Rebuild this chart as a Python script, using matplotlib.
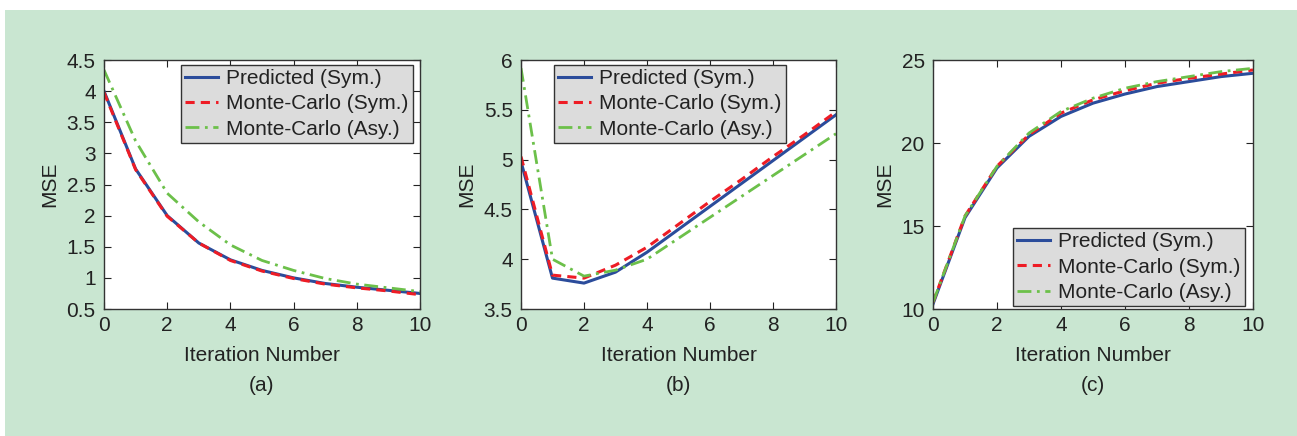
import matplotlib
matplotlib.use("Agg")
import matplotlib.pyplot as plt
from matplotlib.patches import Rectangle

plt.rcParams['font.family'] = ['Liberation Sans', 'DejaVu Sans']

iters = list(range(11))

a_pred = [4.0, 2.75, 2.0, 1.56, 1.29, 1.12, 1.0, 0.91, 0.85, 0.80, 0.75]
a_mc_sym = [3.98, 2.74, 1.99, 1.56, 1.28, 1.11, 0.99, 0.90, 0.84, 0.79, 0.73]
a_mc_asy = [4.34, 3.2, 2.36, 1.9, 1.53, 1.28, 1.12, 0.99, 0.90, 0.84, 0.78]

b_pred = [4.98, 3.81, 3.76, 3.87, 4.07, 4.30, 4.53, 4.76, 4.99, 5.22, 5.45]
b_mc_sym = [5.03, 3.84, 3.81, 3.94, 4.12, 4.35, 4.58, 4.80, 5.03, 5.25, 5.48]
b_mc_asy = [5.92, 4.0, 3.83, 3.89, 4.0, 4.21, 4.42, 4.63, 4.84, 5.05, 5.26]

c_pred = [10.3, 15.5, 18.5, 20.4, 21.6, 22.4, 22.95, 23.4, 23.7, 24.0, 24.2]
c_mc_sym = [10.4, 15.6, 18.6, 20.5, 21.8, 22.6, 23.15, 23.6, 23.9, 24.15, 24.4]
c_mc_asy = [10.4, 15.6, 18.6, 20.6, 21.9, 22.7, 23.3, 23.7, 24.0, 24.3, 24.5]

labels = ['Predicted (Sym.)', 'Monte-Carlo (Sym.)', 'Monte-Carlo (Asy.)']
captions = ['(a)', '(b)', '(c)']
ylims = [(0.5, 4.5), (3.5, 6), (10, 25)]
yticks = [[0.5, 1, 1.5, 2, 2.5, 3, 3.5, 4, 4.5],
          [3.5, 4, 4.5, 5, 5.5, 6],
          [10, 15, 20, 25]]
ytick_labels = [['0.5', '1', '1.5', '2', '2.5', '3', '3.5', '4', '4.5'],
                ['3.5', '4', '4.5', '5', '5.5', '6'],
                ['10', '15', '20', '25']]
xticks = [0, 2, 4, 6, 8, 10]

W, H = 1297, 436
fig = plt.figure(figsize=(W / 100, H / 100), dpi=100)
fig.patch.set_facecolor('white')
fig.patches.append(Rectangle((5 / W, 0), 1 - 5 / W, 1 - 10 / H,
                             transform=fig.transFigure, facecolor='#c9e6d1',
                             edgecolor='none', zorder=-10))

blue = '#2b4c9b'
red = '#ee1c25'
green = '#6cc04a'
txt = '#222222'
fs = 15

rects = [(104, 316), (521, 315), (933, 320)]
bottom = (H - 309) / H
height = 249 / H
data = [(a_pred, a_mc_sym, a_mc_asy), (b_pred, b_mc_sym, b_mc_asy), (c_pred, c_mc_sym, c_mc_asy)]
leg_locs = ['upper right', 'upper right', 'lower right']
leg_anchors = [((413 - 104) / 316, (309 - 65) / 249),
               ((786 - 521) / 315, (309 - 65) / 249),
               ((1245 - 933) / 320, 0.012)]

for i in range(3):
    l, w = rects[i]
    ax = fig.add_axes([l / W, bottom, w / W, height])
    ax.set_facecolor('white')
    p, ms, ma = data[i]
    ax.plot(iters, p, color=blue, lw=2.2, ls='-', label=labels[0])
    ax.plot(iters, ms, color=red, lw=2.2, ls=(0, (3, 2)), label=labels[1])
    ax.plot(iters, ma, color=green, lw=2.0, ls=(0, (5, 2, 1, 2)), label=labels[2])
    ax.set_xlim(0, 10)
    ax.set_ylim(*ylims[i])
    ax.set_xticks(xticks)
    ax.set_xticklabels([str(t) for t in xticks])
    ax.set_yticks(yticks[i])
    ax.set_yticklabels(ytick_labels[i])
    ax.tick_params(direction='in', top=True, right=True, length=5, width=0.8,
                   labelsize=fs, colors=txt)
    ax.tick_params(axis='x', pad=5)
    ax.tick_params(axis='y', pad=6)
    for s in ax.spines.values():
        s.set_color('#333333')
        s.set_linewidth(1.0)
    ax.set_xlabel('Iteration Number', fontsize=fs, color=txt, labelpad=8)
    ax.set_ylabel('MSE', fontsize=fs, color=txt, labelpad=5)
    ax.text(0.5, (385 - 309) / -249.0, captions[i], transform=ax.transAxes,
            ha='center', va='center', fontsize=fs, color=txt)
    leg = ax.legend(loc=leg_locs[i], bbox_to_anchor=leg_anchors[i], fontsize=fs,
                    frameon=True, fancybox=False,
                    edgecolor='#333333', facecolor='#dcdcdc', framealpha=1,
                    handlelength=1.6, handletextpad=0.4, labelspacing=0.3,
                    borderpad=0.2, borderaxespad=0.0)
    leg.get_frame().set_linewidth(1.0)
    for t in leg.get_texts():
        t.set_color(txt)

fig.savefig('out.png', dpi=100)
